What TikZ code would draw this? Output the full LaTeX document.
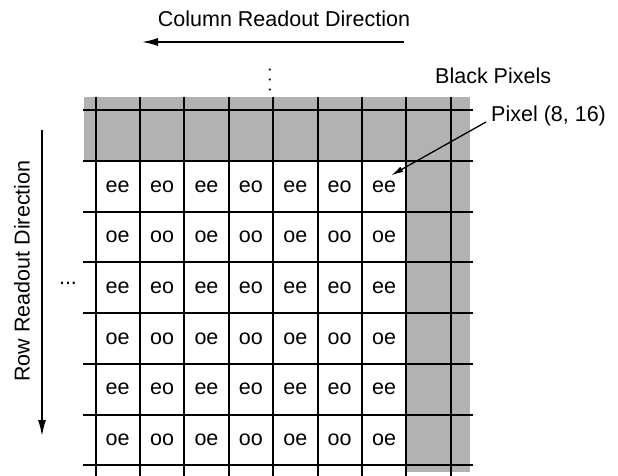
\documentclass[tikz,border=0pt]{standalone}
\usepackage{fontspec}
\setmainfont{Liberation Sans}
\usetikzlibrary{arrows.meta}
\begin{document}
\begin{tikzpicture}[x=1pt,y=-1pt,
  gridline/.style={line width=2pt},
  band/.style={fill=black!30},
  txt/.style={font=\fontsize{21.5}{25}\selectfont, inner sep=0pt},
  arr/.style={line width=1.5pt, -{Latex[length=16pt,width=8pt]}},
  ptr/.style={line width=1.3pt, -{Latex[length=12pt,width=6pt]}}]
\useasboundingbox (0,0) rectangle (618,476);
\begin{scope}
\clip (0,0) rectangle (618,476);
\fill[band] (84,97) rectangle (470,161);
\fill[band] (406,97) rectangle (470,472);
\foreach \i in {0,...,8} \draw[gridline] ({95.5+44.4*\i},97) -- ({95.5+44.4*\i},480);
\draw[gridline] (83,110) -- (473,110);
\foreach \j in {0,...,6} \draw[gridline] (83,{161+50.7*\j}) -- (473,{161+50.7*\j});
\end{scope}
\foreach \r in {1,...,6}{\foreach \c in {1,...,7}{
  \pgfmathsetmacro\xx{95.5+44.4*(\c-0.5)}
  \pgfmathsetmacro\yy{161+50.7*(\r-0.5)}
  \node[txt] (c\r-\c) at (\xx,\yy) {\ifodd\r\relax e\else o\fi\ifodd\c\relax e\else o\fi};
}}
\node[txt] (coltext) at (284,19) {Column Readout Direction};
\coordinate (cs) at (404,42);
\coordinate (ce) at (142,42);
\draw[arr] (cs) -- (ce);
\node[txt, rotate=90] (rowtext) at (22,271) {Row Readout Direction};
\coordinate (rs) at (42,130);
\coordinate (re) at (42,436);
\draw[arr] (rs) -- (re);
\node[txt, rotate=90, font=\fontsize{18}{20}\selectfont] (vdots) at (270,80) {.\ .\ .};
\node[txt] (hdots) at (68,283) {...};
\node[txt, anchor=west] (black) at (435,76) {Black Pixels};
\node[txt, anchor=west] (pix) at (491,116) {Pixel (8, 16)};
\coordinate (pp) at (486,122);
\draw[ptr] (pp) -- ([shift={(-5,-5)}]c1-7.north east);
\end{tikzpicture}
\end{document}
